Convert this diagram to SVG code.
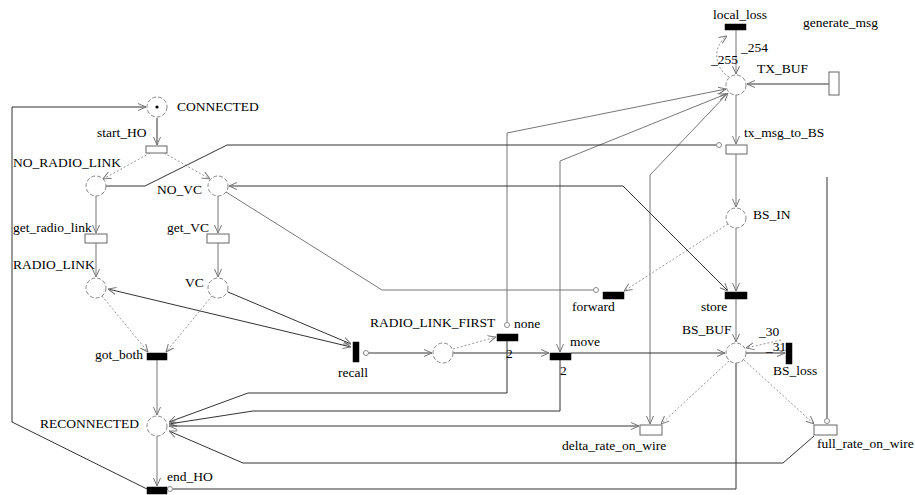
<svg xmlns="http://www.w3.org/2000/svg" width="915" height="495" viewBox="0 0 915 495">
<defs>
<marker id="a" viewBox="0 0 8 8" refX="8" refY="4" markerWidth="8" markerHeight="8" markerUnits="userSpaceOnUse" orient="auto-start-reverse"><path d="M0,0.5 L8,4 L0,7.5" fill="none" stroke="#777" stroke-width="1"/></marker>
</defs>
<style>
text{font-family:"Liberation Serif","Times New Roman",serif;font-size:13.5px;fill:#000}
.pl{fill:#fff;stroke:#888;stroke-width:1;stroke-dasharray:4,2}
.tt{fill:#fff;stroke:#666;stroke-width:1}
.ti{fill:#000;stroke:#000;stroke-width:0.5}
.s{fill:none;stroke:#333;stroke-width:1}
.d{fill:none;stroke:#999;stroke-width:1;stroke-dasharray:2,2}
.g{fill:none;stroke:#777;stroke-width:1}
.inh{fill:#fff;stroke:#888;stroke-width:1}
.m{marker-end:url(#a)}
.mm{marker-end:url(#a);marker-start:url(#a)}
</style>
<rect width="915" height="495" fill="#fff"/>
<g id="arcs">
<path class="s m" d="M157 118V145"/>
<path class="d m" d="M150 153L103 179"/>
<path class="d m" d="M164 153L210 179"/>
<path class="g m" d="M96 196V233"/>
<path class="g m" d="M96 243V277"/>
<path class="g m" d="M218 196V233"/>
<path class="g m" d="M218 243V277"/>
<path class="d m" d="M102 296L148 352"/>
<path class="d m" d="M212 296L166 352"/>
<path class="g m" d="M157 360V415"/>
<path class="g m" d="M157 436V486"/>
<path class="s m" d="M147 489L12 422V107H146"/>
<path class="s mm" d="M108 289L351 347"/>
<path class="s m" d="M228 292L351 344"/>
<path class="s m" d="M363 353H432"/>
<circle class="inh" cx="366" cy="353" r="2.5"/>
<path class="d m" d="M453 349L496 337"/>
<path class="s m" d="M453 353H549"/>
<path class="s m" d="M507 341V393H248L169 422"/>
<path class="s m" d="M560 360V411H253L169 424"/>
<path class="s mm" d="M169 426H639"/>
<path class="s m" d="M814 436L783 463H243L169 431"/>
<path class="s" d="M736 363V489H173"/>
<circle class="inh" cx="170" cy="489" r="2.5"/>
<path class="g m" d="M507 322V133L726 89"/>
<circle class="inh" cx="507" cy="325" r="2.5"/>
<path class="g mm" d="M560 352V161L726 94"/>
<path class="g mm" d="M650 424V175L728 93"/>
<path class="s m" d="M829 84H747"/>
<path class="g m" d="M736 30V74"/>
<path class="d m" d="M729 77C714 68 712 46 727 36"/>
<path class="g m" d="M736 95V144"/>
<path class="s" d="M106 186H145L227 145H716"/>
<circle class="inh" cx="719" cy="145" r="2.5"/>
<path class="g m" d="M736 154V207"/>
<path class="g m" d="M736 228V291"/>
<path class="d m" d="M728 224L624 291"/>
<path class="s mm" d="M728 291L623 186H229"/>
<path class="g" d="M226 192L382 290H593"/>
<circle class="inh" cx="596" cy="290" r="2.5"/>
<path class="g m" d="M736 299V342"/>
<path class="s m" d="M571 353H725"/>
<path class="s m" d="M746 353H785"/>
<path class="d m" d="M781 340L746 348"/>
<path class="d m" d="M729 361L661 424"/>
<path class="d m" d="M744 360L814 424"/>
<path class="s" d="M827 177V418"/>
<circle class="inh" cx="827" cy="421" r="2.5"/>
</g>
<g id="CONNECTED"><circle class="pl" cx="157" cy="107" r="10"/><circle cx="157" cy="107" r="1.6" fill="#000"/><text x="177" y="111">CONNECTED</text></g>
<g id="NO_RADIO_LINK"><circle class="pl" cx="96" cy="186" r="10"/><text x="13" y="167">NO_RADIO_LINK</text></g>
<g id="NO_VC"><circle class="pl" cx="218" cy="186" r="10"/><text x="157" y="194">NO_VC</text></g>
<g id="RADIO_LINK"><circle class="pl" cx="96" cy="288" r="10"/><text x="13" y="269">RADIO_LINK</text></g>
<g id="VC"><circle class="pl" cx="218" cy="288" r="10"/><text x="185" y="287">VC</text></g>
<g id="RECONNECTED"><circle class="pl" cx="157" cy="426" r="10"/><text x="40" y="428">RECONNECTED</text></g>
<g id="RADIO_LINK_FIRST"><circle class="pl" cx="443" cy="353" r="10"/><text x="370" y="327">RADIO_LINK_FIRST</text></g>
<g id="TX_BUF"><circle class="pl" cx="736" cy="85" r="10"/><text x="757" y="73">TX_BUF</text><text x="741" y="52">_254</text><text x="711" y="64">_255</text></g>
<g id="BS_IN"><circle class="pl" cx="736" cy="218" r="10"/><text x="753" y="219">BS_IN</text></g>
<g id="BS_BUF"><circle class="pl" cx="736" cy="353" r="10"/><text x="682" y="334">BS_BUF</text><text x="759" y="336">_30</text><text x="766" y="351">_31</text></g>
<g id="start_HO"><rect class="tt" x="146" y="146" width="21" height="7"/><text x="97" y="137">start_HO</text></g>
<g id="get_radio_link"><rect class="tt" x="85" y="234" width="22" height="9"/><text x="13" y="232">get_radio_link</text></g>
<g id="get_VC"><rect class="tt" x="207" y="234" width="22" height="9"/><text x="167" y="232">get_VC</text></g>
<g id="got_both"><rect class="ti" x="147" y="353" width="20" height="7"/><text x="95" y="359">got_both</text></g>
<g id="end_HO"><rect class="ti" x="147" y="487" width="20" height="7"/><text x="167" y="481">end_HO</text></g>
<g id="recall"><rect class="ti" x="353" y="342" width="6" height="20"/><text x="338" y="377">recall</text></g>
<g id="none"><rect class="ti" x="497" y="334" width="21" height="7"/><text x="514" y="328">none</text><text x="506" y="358">2</text></g>
<g id="move"><rect class="ti" x="550" y="353" width="21" height="7"/><text x="570" y="346">move</text><text x="560" y="375">2</text></g>
<g id="forward"><rect class="ti" x="603" y="292" width="21" height="7"/><text x="572" y="311">forward</text></g>
<g id="store"><rect class="ti" x="725" y="292" width="22" height="7"/><text x="701" y="311">store</text></g>
<g id="BS_loss"><rect class="ti" x="786" y="343" width="6" height="21"/><text x="773" y="375">BS_loss</text></g>
<g id="local_loss"><rect class="ti" x="725" y="24" width="21" height="6"/><text x="713" y="19">local_loss</text></g>
<g id="generate_msg"><rect class="tt" x="829" y="72" width="10" height="23"/><text x="803" y="27">generate_msg</text></g>
<g id="tx_msg_to_BS"><rect class="tt" x="726" y="145" width="21" height="9"/><text x="744" y="137">tx_msg_to_BS</text></g>
<g id="delta_rate_on_wire"><rect class="tt" x="640" y="425" width="22" height="10"/><text x="562" y="450">delta_rate_on_wire</text></g>
<g id="full_rate_on_wire"><rect class="tt" x="814" y="425" width="23" height="10"/><text x="817" y="448">full_rate_on_wire</text></g>
</svg>
